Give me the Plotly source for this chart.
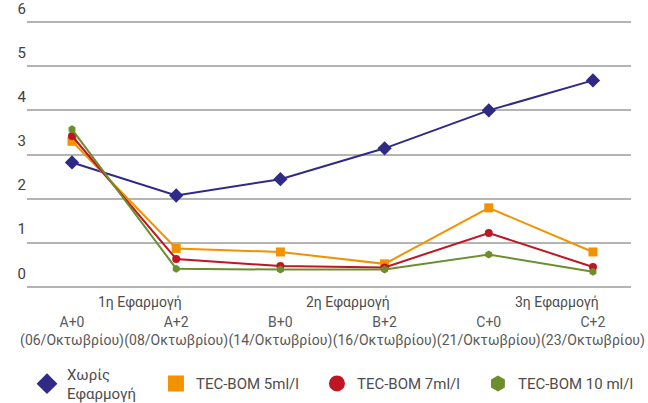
import plotly.graph_objects as go

points = ["A+0", "A+2", "B+0", "B+2", "C+0", "C+2"]
dates = ["(06/Οκτωβρίου)", "(08/Οκτωβρίου)", "(14/Οκτωβρίου)",
         "(16/Οκτωβρίου)", "(21/Οκτωβρίου)", "(23/Οκτωβρίου)"]
groups = ["1η Εφαρμογή", "2η Εφαρμογή", "3η Εφαρμογή"]

series_names = ["Χωρίς<br>Εφαρμογή", "TEC-BOM 5ml/l", "TEC-BOM 7ml/l", "TEC-BOM 10 ml/l"]
no_app = [2.82, 2.07, 2.44, 3.14, 4.00, 4.68]
tec5 = [3.30, 0.87, 0.79, 0.52, 1.79, 0.79]
tec7 = [3.42, 0.63, 0.47, 0.44, 1.22, 0.45]
tec10 = [3.57, 0.41, 0.39, 0.39, 0.73, 0.34]

colors = ["#2e2a85", "#f39200", "#be1622", "#6a8f2c"]
symbols = ["diamond", "square", "circle", "hexagon"]
msizes = [11, 9, 8, 8]
legend_sizes = [22, 18, 20, 20]
legend_ids = ["legend", "legend2", "legend2", "legend2"]

xs = list(range(len(points)))
fig = go.Figure()
for name, vals, c, s, ms in zip(series_names, [no_app, tec5, tec7, tec10], colors, symbols, msizes):
    fig.add_trace(go.Scatter(x=xs, y=vals, mode="lines+markers", name=name,
                             line=dict(color=c, width=2),
                             marker=dict(color=c, symbol=s, size=ms),
                             showlegend=False))
for name, c, s, ls, lg in zip(series_names, colors, symbols, legend_sizes, legend_ids):
    fig.add_trace(go.Scatter(x=[None], y=[None], mode="markers", name=name,
                             marker=dict(color=c, symbol=s, size=ls),
                             showlegend=True, legend=lg))

ticktext = [f"{p}<br>{d}" for p, d in zip(points, dates)]
font_family = "Roboto, Liberation Sans Narrow, sans-serif"

for i, g in enumerate(groups):
    fig.add_annotation(x=2 * i + 0.5, y=0, xref="x", yref="paper", text=g,
                       showarrow=False, yanchor="top", yshift=-3, xshift=16,
                       font=dict(family=font_family, size=14, color="#4d4d4d"))

legend_common = dict(orientation="h", yanchor="middle", y=-0.352,
                     font=dict(family=font_family, size=15, color="#4d4d4d"),
                     valign="middle", itemsizing="trace", bgcolor="rgba(0,0,0,0)")

fig.update_layout(
    width=648, height=403,
    margin=dict(l=27, r=17, t=20, b=114, autoexpand=False),
    paper_bgcolor="white", plot_bgcolor="white",
    font=dict(family=font_family, color="#4d4d4d"),
    xaxis=dict(range=[-0.432, 5.365], tickvals=xs, ticktext=ticktext, tickangle=0,
               showgrid=False, zeroline=False, showline=False, ticks="",
               ticklabelstandoff=23, ticklabeloverflow="allow", automargin=False,
               tickfont=dict(family=font_family, size=14, color="#595959")),
    yaxis=dict(range=[-0.05, 6.05], dtick=1, showgrid=True, gridcolor="#b4b4b4",
               gridwidth=1.5, zeroline=False, showline=False, ticks="",
               ticklabelposition="outside top", ticklabelshift=-3,
               ticklabeloverflow="allow", automargin=False,
               tickfont=dict(family=font_family, size=15, color="#404040")),
    legend=dict(x=0.0, xanchor="left", **legend_common),
    legend2=dict(x=0.2135, xanchor="left", entrywidth=116, entrywidthmode="pixels",
                 **legend_common),
)

fig.write_html("out.html", config={"displayModeBar": False},
               post_script="document.body.style.margin='0';document.body.style.overflow='hidden';")
